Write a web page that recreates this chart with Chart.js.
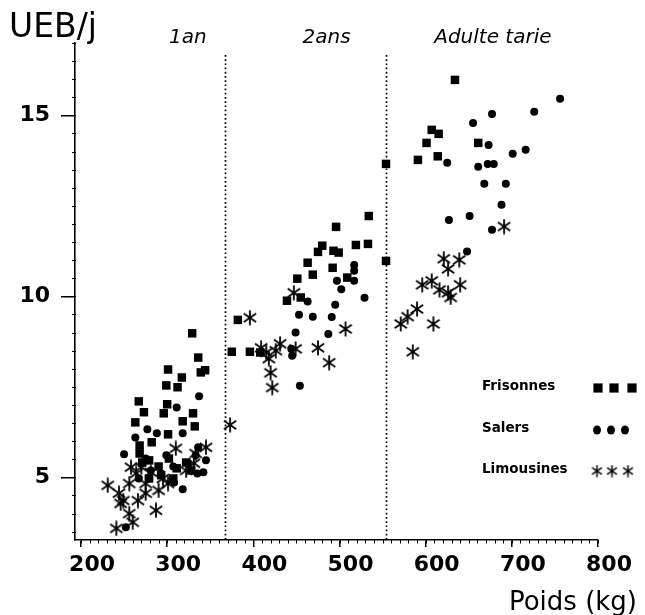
<!DOCTYPE html>
<html><head><meta charset="utf-8">
<script src="https://cdn.jsdelivr.net/npm/chart.js@4/dist/chart.umd.min.js"></script>
<style>html,body{margin:0;padding:0;background:#fff;} canvas{display:block;}</style>
</head><body>
<canvas id="c" width="645" height="615"></canvas>
<script>
// ---- data ----
const xTicks = [200, 300, 400, 500, 600, 700, 800];
const yTicks = [5, 10, 15];
const seriesNames = ['Frisonnes', 'Salers', 'Limousines'];
const periodLabels = ['1an', '2ans', 'Adulte tarie'];
const periodLabelPoids = [324, 485, 678];
const periodBounds = [367, 554];
const xTitle = 'Poids (kg)';
const yTitle = 'UEB/j';

const frisonnesPoids = [329,336,339,344,301,317,312,299,267,300,296,273,263,330,318,332,301,282,268,268,271,279,290,302,311,322,307,293,279,328,
  534,496,533,519,480,475,493,499,463,492,469,509,451,439,455,382,375,396,408,
  634,607,615,601,661,591,614,554,554];
const frisonnesUEB = [8.98,8.31,7.9,7.96,7.98,7.76,7.49,7.54,7.1,7.02,6.77,6.8,6.52,6.77,6.55,6.41,6.19,5.97,5.88,5.66,5.41,5.47,5.3,5.52,5.25,5.41,4.97,5.06,4.97,5.19,
  12.22,11.92,11.45,11.42,11.4,11.23,11.26,11.21,10.93,10.79,10.6,10.52,10.49,9.88,9.97,9.35,8.47,8.47,8.45,
  15.98,14.6,14.49,14.24,14.24,13.77,13.87,13.66,10.98];

const salersPoids = [311,277,288,318,263,337,250,336,333,342,335,324,307,293,308,318,281,267,299,275,345,252,
  517,517,497,502,517,529,463,495,453,469,491,449,487,445,444,454,
  677,655,673,716,701,625,661,672,679,668,693,688,627,651,677,648,726,756];
const salersUEB = [6.93,6.33,6.22,6.22,6.1,7.24,5.64,5.83,5.61,5.14,5.11,5.39,5.3,5.11,4.86,4.67,5.19,4.97,5.61,5.52,5.47,3.62,
  10.87,10.71,10.43,10.2,10.43,9.96,9.86,9.77,9.49,9.44,9.43,9.0,8.96,8.36,8.55,7.53,
  15.04,14.79,14.18,14.05,13.94,13.69,13.58,13.66,13.66,13.11,13.11,12.53,12.11,12.22,11.84,11.24,15.1,15.46];

const limousinesPoids = [231,244,249,256,258,264,256,260,241,275,275,287,295,301,310,333,345,331,270,281,246,266,290,322,
  396,447,507,431,449,475,488,409,418,420,422,426,415,373,
  691,621,639,626,596,607,616,626,640,629,590,579,571,609,585];
const limousinesUEB = [4.78,4.56,4.36,4.83,5.28,5.11,4.0,3.76,3.59,4.83,4.56,4.09,4.97,4.83,5.8,5.66,5.83,5.39,5.28,5.14,4.28,4.36,4.64,5.19,
  9.41,10.1,9.1,8.69,8.55,8.58,8.17,8.58,8.28,7.89,7.48,8.5,8.45,6.45,
  11.93,11.04,11.01,10.76,10.32,10.43,10.18,10.1,10.32,9.97,9.65,9.44,9.24,9.24,8.47];

// ---- styling ----
const FONT = '"DejaVu Sans", sans-serif';

function makeStar(size, lw) {
  const c = document.createElement('canvas');
  c.width = size; c.height = size;
  const g = c.getContext('2d');
  g.strokeStyle = '#000'; g.lineWidth = lw;
  const r = size / 2 - 0.5, cx = size / 2, cy = size / 2;
  for (const a of [90, 35, -35]) {
    const rad = a * Math.PI / 180;
    g.beginPath();
    g.moveTo(cx - r * Math.cos(rad), cy - r * Math.sin(rad));
    g.lineTo(cx + r * Math.cos(rad), cy + r * Math.sin(rad));
    g.stroke();
  }
  return c;
}
const starImg = makeStar(16, 1.8);
const starSmall = makeStar(13, 1.5);

const toPts = (xs, ys) => xs.map((x, i) => ({ x, y: ys[i] }));

const decor = {
  id: 'decor',
  afterDraw(chart) {
    const { ctx, chartArea: a, scales: { x, y } } = chart;
    ctx.save();
    // dotted period separators
    ctx.strokeStyle = '#000';
    ctx.lineWidth = 1.7;
    ctx.setLineDash([1.7, 2.5]);
    periodBounds.forEach(v => {
      const px = Math.round(x.getPixelForValue(v)) + 0.5;
      ctx.beginPath(); ctx.moveTo(px, 55); ctx.lineTo(px, a.bottom); ctx.stroke();
    });
    ctx.setLineDash([]);
    // minor ticks
    ctx.lineWidth = 1;
    for (let v = 200; v <= 800; v += 10) {
      const px = Math.round(x.getPixelForValue(v)) + 0.5;
      ctx.beginPath(); ctx.moveTo(px, a.bottom); ctx.lineTo(px, a.bottom + 3.5); ctx.stroke();
    }
    for (let v = 3.5; v <= 17; v += 0.5) {
      const py = Math.round(y.getPixelForValue(v)) + 0.5;
      ctx.beginPath(); ctx.moveTo(a.left - 3, py); ctx.lineTo(a.left + 1, py); ctx.stroke();
    }
    // titles
    ctx.fillStyle = '#000';
    ctx.textBaseline = 'alphabetic';
    ctx.textAlign = 'left';
    ctx.font = '33px ' + FONT;
    ctx.fillText(yTitle, 9, 37);
    ctx.font = 'oblique 20px ' + FONT;
    ctx.textAlign = 'center';
    periodLabels.forEach((t, i) => ctx.fillText(t, x.getPixelForValue(periodLabelPoids[i]), 43));
    ctx.font = '26px ' + FONT;
    ctx.textAlign = 'right';
    ctx.fillText(xTitle, 637, 610);
    // legend
    ctx.font = 'bold 13.5px ' + FONT;
    ctx.textAlign = 'left';
    ctx.textBaseline = 'middle';
    const ly = [386, 428, 469];
    seriesNames.forEach((t, i) => ctx.fillText(t, 482, ly[i]));
    const H = Chart.helpers;
    [598, 614, 632].forEach(px => H.drawPoint(ctx, { pointStyle: 'rect', radius: 6.5, rotation: 0 }, px, 388));
    ctx.fillStyle = '#000';
    [597, 611, 625].forEach(px => { ctx.beginPath(); ctx.ellipse(px, 430, 4, 4.5, 0, 0, Math.PI * 2); ctx.fill(); });
    [597, 612, 628].forEach(px => ctx.drawImage(starSmall, px - 6.5, 471 - 6.5));
    ctx.restore();
  }
};

const tickFont = { family: FONT, size: 22, weight: 'bold' };
new Chart(document.getElementById('c'), {
  type: 'scatter',
  data: {
    datasets: [
      { label: seriesNames[0], data: toPts(frisonnesPoids, frisonnesUEB), pointStyle: 'rect', pointRadius: 6, backgroundColor: '#000', borderColor: '#000', borderWidth: 0 },
      { label: seriesNames[1], data: toPts(salersPoids, salersUEB), pointStyle: 'circle', pointRadius: 4, backgroundColor: '#000', borderColor: '#000', borderWidth: 0 },
      { label: seriesNames[2], data: toPts(limousinesPoids, limousinesUEB), pointStyle: starImg, pointRadius: 8, backgroundColor: '#000', borderColor: '#000' }
    ]
  },
  options: {
    responsive: false, animation: false, devicePixelRatio: 1,
    layout: { padding: { left: 0, right: 47, top: 43, bottom: 0 } },
    plugins: { legend: { display: false }, tooltip: { enabled: false } },
    scales: {
      x: {
        type: 'linear', min: 193, max: 800,
        afterFit(s) { s.height = 75; },
        afterBuildTicks(s) { s.ticks = xTicks.map(v => ({ value: v })); },
        grid: { display: true, drawOnChartArea: false, drawTicks: true, tickLength: 7, color: '#000', lineWidth: 1.5 },
        border: { display: true, color: '#000', width: 1.6 },
        ticks: { font: tickFont, color: '#000', padding: 5, labelOffset: 11, maxRotation: 0, autoSkip: false }
      },
      y: {
        type: 'linear', min: 3.27, max: 17,
        afterFit(s) { s.width = 75; },
        afterBuildTicks(s) { s.ticks = yTicks.map(v => ({ value: v })); },
        grid: { display: true, drawOnChartArea: false, drawTicks: true, tickLength: 14, color: '#000', lineWidth: 1.5 },
        border: { display: true, color: '#000', width: 1.6 },
        ticks: { font: tickFont, color: '#000', padding: 11, autoSkip: false }
      }
    }
  },
  plugins: [decor]
});
</script>
</body></html>
